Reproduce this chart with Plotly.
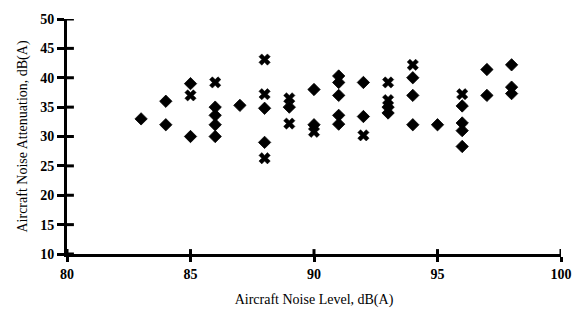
import plotly.graph_objects as go

# Filled (diamond-like) markers
dia_x = [83, 84, 84, 85, 85, 86, 86, 86, 86, 87, 88, 88, 89, 90, 90,
         91, 91, 91, 91, 91, 92, 92, 93, 93, 94, 94, 94, 95,
         96, 96, 96, 96, 97, 97, 98, 98, 98]
dia_y = [33, 36, 32, 39, 30, 35, 33.6, 32, 30, 35.3, 34.8, 29, 35, 38, 32,
         40.3, 39.2, 37, 33.6, 32.1, 39.2, 33.4, 35, 34, 40, 37, 32, 32,
         35.2, 32.3, 31, 28.3, 41.4, 37, 42.2, 38.4, 37.3]

# Cross markers
crs_x = [85, 86, 88, 88, 88, 89, 89, 90, 92, 93, 93, 94, 96]
crs_y = [37, 39.2, 43.1, 37.2, 26.3, 36.5, 32.2, 30.8, 30.2, 39.2, 36.2, 42.2, 37.2]

x_ticks = [80, 85, 90, 95, 100]
y_ticks = [10, 15, 20, 25, 30, 35, 40, 45, 50]

FONT = "Liberation Serif"
W, H = 584, 320
M = dict(l=67, r=16, t=14, b=66)
plot_w = W - M["l"] - M["r"]
plot_h = H - M["t"] - M["b"]

fig = go.Figure()
fig.add_trace(go.Scatter(x=dia_x, y=dia_y, mode="markers",
                         marker=dict(symbol="diamond", size=9.5, color="black",
                                     line=dict(width=0.8, color="black")),
                         showlegend=False))
fig.add_trace(go.Scatter(x=crs_x, y=crs_y, mode="markers",
                         marker=dict(symbol="x", size=10, color="black",
                                     line=dict(width=0.5, color="black")),
                         showlegend=False))

# inner halves of the crossing tick marks
shapes = []
for xv in x_ticks:
    shapes.append(dict(type="line", xref="x", yref="y domain", x0=xv, x1=xv,
                       y0=0, y1=5 / plot_h, line=dict(color="black", width=3)))
for yv in y_ticks:
    shapes.append(dict(type="line", xref="x domain", yref="y", x0=0, x1=7 / plot_w,
                       y0=yv, y1=yv, line=dict(color="black", width=3)))

fig.update_layout(
    width=W, height=H,
    margin=M,
    paper_bgcolor="white", plot_bgcolor="white",
    font=dict(family=FONT, size=14, color="black"),
    shapes=shapes,
    xaxis=dict(range=[80, 100], tickvals=x_ticks,
               ticktext=[f"<b>{v}</b>" for v in x_ticks],
               ticks="outside", ticklen=5,
               tickwidth=3, tickcolor="black", showline=True, linewidth=3,
               linecolor="black", showgrid=False, zeroline=False,
               tickfont=dict(family=FONT, size=14, color="black"),
               title=dict(text="Aircraft Noise Level, dB(A)",
                          font=dict(family=FONT, size=14, color="black"),
                          standoff=14)),
    yaxis=dict(range=[10, 50], tickvals=y_ticks,
               ticktext=[f"<b>{v}</b>" for v in y_ticks],
               ticks="outside", ticklen=7,
               tickwidth=3, tickcolor="black", showline=True, linewidth=3,
               linecolor="black", showgrid=False, zeroline=False,
               tickfont=dict(family=FONT, size=14, color="black"),
               title=dict(text="Aircraft Noise Attenuation, dB(A)",
                          font=dict(family=FONT, size=14, color="black"),
                          standoff=10)),
)

fig.write_html("out.html", config={"displayModeBar": False},
               post_script="document.body.style.margin='0';")
